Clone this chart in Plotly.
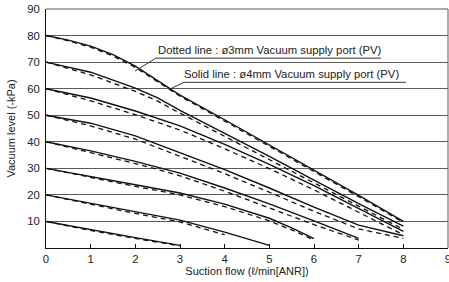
import plotly.graph_objects as go

# ---- data (ø4mm = solid, ø3mm = dotted/dashed) ----
flow_80 = [0, 0.5, 1, 1.5, 2, 2.5, 3, 4, 5, 6, 7, 8]
solid_80 = [80, 78.3, 76, 72.8, 68.5, 63, 57.6, 48.3, 38.9, 29.5, 19.8, 10]
dash_80 = [80, 78.0, 75.6, 72.3, 68.0, 62.6, 57.2, 47.8, 38.4, 29.0, 19.3, 9.6]

flow_70 = [0, 1, 2, 2.5, 3, 4, 5, 6, 7, 8]
solid_70 = [70, 66.2, 60.2, 56.5, 51.8, 43.2, 34.5, 25.6, 16.7, 8.2]
dash_70 = [70, 65.2, 59.0, 55.3, 50.8, 42.0, 33.3, 24.4, 15.5, 7.0]

flow_60 = [0, 1, 2, 2.5, 3, 4, 5, 6, 7, 8]
solid_60 = [60, 56.5, 51.6, 48.9, 46.0, 39.0, 31.5, 23.5, 15.0, 6.3]
dash_60 = [60, 55.4, 50.2, 47.4, 44.4, 37.4, 29.9, 21.9, 13.5, 5.0]

flow_50 = [0, 1, 2, 2.5, 3, 4, 5, 6, 7, 8]
solid_50 = [50, 47.0, 42.2, 39.0, 36.0, 29.5, 22.6, 15.4, 8.6, 4.6]
dash_50 = [50, 46.0, 41.0, 37.8, 34.6, 28.0, 21.0, 13.8, 7.2, 3.6]

flow_40 = [0, 1, 2, 2.6, 3, 4, 5, 6, 7]
solid_40 = [40, 36.6, 32.6, 30.0, 28.2, 22.6, 16.6, 10.2, 3.6]
dash_40 = [40, 36.0, 31.8, 29.1, 27.2, 21.4, 15.2, 8.8, 3.0]

flow_30 = [0, 1, 2, 3, 4, 5, 5.5, 6]
solid_30 = [30, 27.0, 23.8, 20.7, 16.5, 11.2, 7.6, 3.5]
dash_30 = [30, 26.5, 23.2, 20.0, 15.6, 10.2, 6.8, 3.0]

flow_20 = [0, 1, 2, 3, 4, 5]
solid_20 = [20, 16.8, 13.6, 10.5, 6.0, 1.0]
dash_20 = [20, 16.4, 13.0, 9.8, 5.0]

flow_10 = [0, 1, 2, 3]
solid_10 = [10, 6.9, 3.9, 1.0]
dash_10 = [10, 6.6, 3.6, 0.8]

series = [
    (flow_80, solid_80, dash_80),
    (flow_70, solid_70, dash_70),
    (flow_60, solid_60, dash_60),
    (flow_50, solid_50, dash_50),
    (flow_40, solid_40, dash_40),
    (flow_30, solid_30, dash_30),
    (flow_20, solid_20, dash_20),
    (flow_10, solid_10, dash_10),
]

x_ticks = [0, 1, 2, 3, 4, 5, 6, 7, 8, 9]
y_ticks = [10, 20, 30, 40, 50, 60, 70, 80, 90]

label_dotted = "Dotted line : ø3mm Vacuum supply port (PV)"
label_solid = "Solid line : ø4mm Vacuum supply port (PV)"

FONT = "Liberation Sans, Arial, sans-serif"
TXT = "#222222"
GRID = "#5a5a5a"

fig = go.Figure()
for fx, s, d in series:
    fig.add_trace(go.Scatter(x=fx[:len(d)], y=d, mode="lines",
                             line=dict(color="#111111", width=1.3, dash="5px,4px"),
                             hoverinfo="skip", showlegend=False))
    fig.add_trace(go.Scatter(x=fx, y=s, mode="lines",
                             line=dict(color="#111111", width=1.4),
                             hoverinfo="skip", showlegend=False))

# leader lines for labels
fig.add_shape(type="path", path="M 7.5 71.5 L 2.46 71.5 L 1.99 66.6",
              xref="x", yref="y", line=dict(color="#333333", width=1))
fig.add_shape(type="path", path="M 8.06 62.4 L 3.09 62.4 L 2.78 59.9",
              xref="x", yref="y", line=dict(color="#333333", width=1))

fig.add_annotation(x=2.46, y=71.5, xref="x", yref="y", text=label_dotted,
                   showarrow=False, xanchor="left", yanchor="bottom",
                   font=dict(family=FONT, size=11.3, color=TXT))
fig.add_annotation(x=3.05, y=62.4, xref="x", yref="y", text=label_solid,
                   showarrow=False, xanchor="left", yanchor="bottom",
                   font=dict(family=FONT, size=11.3, color=TXT))

fig.update_layout(
    width=449, height=282,
    margin=dict(l=46, r=1, t=9, b=34, autoexpand=False),
    paper_bgcolor="white", plot_bgcolor="white",
    font=dict(family=FONT, size=11, color=TXT),
)
fig.update_xaxes(
    range=[0, 9], tickvals=x_ticks, ticktext=[str(v) for v in x_ticks],
    showgrid=False, zeroline=False, ticklabeloverflow="allow", automargin=False,
    showline=True, linecolor="#111111", linewidth=1, mirror=False,
    ticks="inside", ticklen=4, tickcolor="#111111",
    tickfont=dict(family=FONT, size=11.3, color=TXT),
    title=dict(text="Suction flow (ℓ/min[ANR])", standoff=2,
               font=dict(family=FONT, size=11, color=TXT)),
)
fig.update_yaxes(
    range=[0, 90], tickvals=y_ticks, ticktext=[str(v) for v in y_ticks],
    showgrid=True, gridcolor=GRID, gridwidth=1, zeroline=False, automargin=False,
    showline=True, linecolor="#111111", linewidth=1,
    ticks="", ticklabelstandoff=3,
    tickfont=dict(family=FONT, size=11.3, color=TXT),
    title=dict(text="Vacuum level (-kPa)", standoff=9,
               font=dict(family=FONT, size=11, color=TXT)),
)
# right and top border
fig.add_shape(type="line", x0=1, x1=1, y0=0, y1=1, xref="paper", yref="paper",
              line=dict(color=GRID, width=1))
fig.add_shape(type="line", x0=0, x1=1, y0=1, y1=1, xref="paper", yref="paper",
              line=dict(color=GRID, width=1))

fig.write_html("out.html", config={"displayModeBar": False},
               post_script="document.body.style.margin='0';document.body.style.overflow='hidden';")
